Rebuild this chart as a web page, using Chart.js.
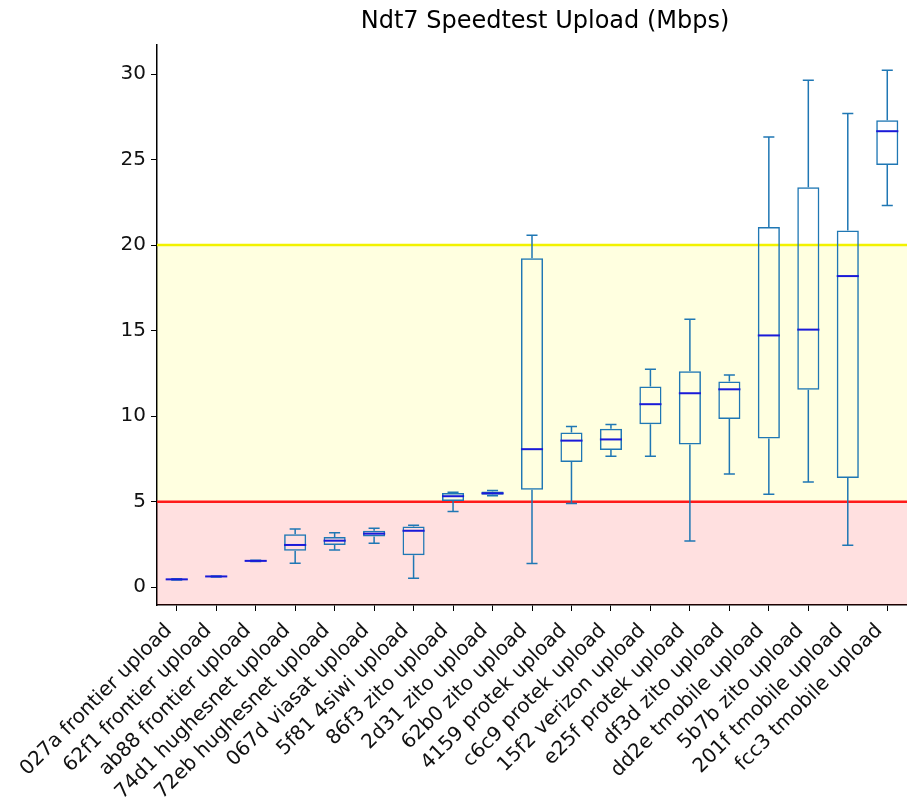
<!DOCTYPE html>
<html>
<head>
<meta charset="utf-8">
<script src="https://cdn.jsdelivr.net/npm/chart.js@4"></script>
<style>
  body { margin: 0; background: #fff; }
  #wrap { width: 907px; height: 809px; }
</style>
</head>
<body>
<div id="wrap"><canvas id="myChart" width="907" height="809"></canvas></div>
<script>
// categories
const labels = [
  "027a frontier upload", "62f1 frontier upload", "ab88 frontier upload",
  "74d1 hughesnet upload", "72eb hughesnet upload", "067d viasat upload",
  "5f81 4siwi upload", "86f3 zito upload", "2d31 zito upload",
  "62b0 zito upload", "4159 protek upload", "c6c9 protek upload",
  "15f2 verizon upload", "e25f protek upload", "df3d zito upload",
  "dd2e tmobile upload", "5b7b zito upload", "201f tmobile upload",
  "fcc3 tmobile upload"
];

// box plot stats (Mbps)
const whiskerLow = [0.42, 0.60, 1.50, 1.40, 2.17, 2.57, 0.53, 4.43, 5.35, 1.38, 4.89, 7.66, 7.66, 2.70, 6.62, 5.43, 6.15, 2.45, 22.32];
const q1 =         [0.44, 0.61, 1.52, 2.13, 2.47, 2.96, 1.87, 5.04, 5.40, 5.70, 7.32, 8.02, 9.53, 8.34, 9.83, 8.70, 11.55, 6.38, 24.68];
const median =     [0.46, 0.63, 1.54, 2.47, 2.72, 3.13, 3.30, 5.32, 5.49, 8.07, 8.57, 8.64, 10.70, 11.34, 11.57, 14.72, 15.06, 18.19, 26.66];
const q3 =         [0.48, 0.64, 1.56, 3.10, 2.94, 3.30, 3.55, 5.51, 5.60, 19.23, 9.04, 9.26, 11.74, 12.62, 12.02, 21.06, 23.38, 20.85, 27.30];
const whiskerHigh = [0.50, 0.66, 1.58, 3.40, 3.19, 3.45, 3.62, 5.55, 5.65, 20.57, 9.40, 9.51, 12.74, 15.66, 12.40, 26.32, 29.64, 27.70, 30.23];

// threshold lines
const lowLimit = 5;
const highLimit = 20;
const yTicks = [0, 5, 10, 15, 20, 25, 30];

const titleText = "Ndt7 Speedtest Upload (Mbps)";
const boxColor = "#1f77b4";
const medianColor = "#1a1ad8";

// bands + threshold lines behind the boxes
const bandsPlugin = {
  id: "bands",
  beforeDatasetsDraw(chart) {
    const { ctx, chartArea: a, scales: { y } } = chart;
    const yLow = y.getPixelForValue(lowLimit);
    const yHigh = y.getPixelForValue(highLimit);
    ctx.save();
    ctx.fillStyle = "rgba(255, 0, 0, 0.12)";
    ctx.fillRect(a.left, yLow, a.right - a.left, a.bottom - yLow);
    ctx.fillStyle = "rgba(255, 255, 0, 0.12)";
    ctx.fillRect(a.left, yHigh, a.right - a.left, yLow - yHigh);
    ctx.lineWidth = 2.5;
    ctx.strokeStyle = "#ff1a1a";
    ctx.beginPath(); ctx.moveTo(a.left, yLow); ctx.lineTo(a.right, yLow); ctx.stroke();
    ctx.strokeStyle = "#f2f200";
    ctx.beginPath(); ctx.moveTo(a.left, yHigh); ctx.lineTo(a.right, yHigh); ctx.stroke();
    ctx.restore();
  }
};

// whiskers, caps and medians on top of the floating bars
const boxPlugin = {
  id: "boxExtras",
  afterDatasetsDraw(chart) {
    const { ctx, scales: { x, y } } = chart;
    const bars = chart.getDatasetMeta(0).data;
    ctx.save();
    labels.forEach((_, i) => {
      const cx = x.getPixelForValue(i);
      const half = bars[i].width / 2;
      const cap = half / 2;
      ctx.lineWidth = 1.5;
      ctx.strokeStyle = boxColor;
      ctx.beginPath();
      ctx.moveTo(cx, y.getPixelForValue(q3[i]));
      ctx.lineTo(cx, y.getPixelForValue(whiskerHigh[i]));
      ctx.moveTo(cx, y.getPixelForValue(q1[i]));
      ctx.lineTo(cx, y.getPixelForValue(whiskerLow[i]));
      ctx.moveTo(cx - cap, y.getPixelForValue(whiskerHigh[i]));
      ctx.lineTo(cx + cap, y.getPixelForValue(whiskerHigh[i]));
      ctx.moveTo(cx - cap, y.getPixelForValue(whiskerLow[i]));
      ctx.lineTo(cx + cap, y.getPixelForValue(whiskerLow[i]));
      ctx.stroke();
      ctx.lineWidth = 2;
      ctx.strokeStyle = medianColor;
      ctx.beginPath();
      ctx.moveTo(cx - half, y.getPixelForValue(median[i]));
      ctx.lineTo(cx + half, y.getPixelForValue(median[i]));
      ctx.stroke();
    });
    ctx.restore();
  }
};

// title centred a bit right of the canvas middle, like the original
const titlePlugin = {
  id: "plotTitle",
  afterDraw(chart) {
    const { ctx } = chart;
    ctx.save();
    ctx.font = "24px 'DejaVu Sans'";
    ctx.fillStyle = "#000";
    ctx.textAlign = "center";
    ctx.textBaseline = "middle";
    ctx.fillText(titleText, 545, 22);
    ctx.restore();
  }
};

const ctx = document.getElementById("myChart").getContext("2d");
new Chart(ctx, {
  type: "bar",
  data: {
    labels: labels,
    datasets: [{
      label: "upload",
      data: q1.map((v, i) => [v, q3[i]]),
      backgroundColor: "rgba(0,0,0,0)",
      borderColor: boxColor,
      borderWidth: 1.5,
      borderSkipped: false,
      barPercentage: 0.56,
      categoryPercentage: 1.0
    }]
  },
  options: {
    responsive: false,
    animation: false,
    layout: { padding: { left: 0, right: 0, top: 45, bottom: 0 } },
    plugins: {
      legend: { display: false },
      tooltip: { enabled: false },
      title: { display: false }
    },
    scales: {
      x: {
        offset: true,
        grid: { display: true, drawOnChartArea: false, offset: false, color: "#000", tickLength: 6 },
        border: { display: true, color: "#000", width: 1.5 },
        ticks: {
          color: "#111",
          font: { family: "DejaVu Sans", size: 20 },
          minRotation: 45,
          maxRotation: 45,
          autoSkip: false,
          padding: 8,
          labelOffset: -8
        },
        afterFit(scale) {
          scale.height = 204;
          scale.paddingLeft = 0;
          scale.paddingRight = 0;
        }
      },
      y: {
        min: -1.04,
        max: 31.7,
        grid: { display: true, drawOnChartArea: false, color: "#000", tickLength: 6 },
        border: { display: true, color: "#000", width: 1.5 },
        ticks: {
          stepSize: 5,
          includeBounds: false,
          color: "#111",
          padding: 5,
          font: { family: "DejaVu Sans", size: 20 },
          callback: (v) => (yTicks.includes(v) ? v : "")
        },
        afterFit(scale) { scale.width = 157; }
      }
    }
  },
  plugins: [bandsPlugin, boxPlugin, titlePlugin]
});
</script>
</body>
</html>
